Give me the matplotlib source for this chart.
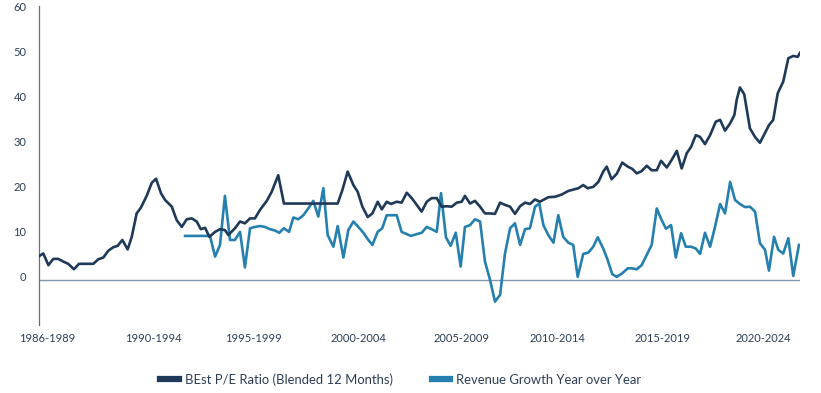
import matplotlib
matplotlib.use("Agg")
import matplotlib.pyplot as plt
import matplotlib.transforms as mtransforms
from matplotlib.lines import Line2D

# BEst P/E ratio (blended 12 months)
pe_year = [1986.00, 1986.21, 1986.46, 1986.70, 1986.94, 1987.19, 1987.43, 1987.71, 1987.96, 1988.66,
           1988.90, 1989.15, 1989.39, 1989.64, 1989.85, 1990.08, 1990.34, 1990.54, 1990.78, 1990.99,
           1991.27, 1991.52, 1991.73, 1991.97, 1992.17, 1992.50, 1992.74, 1992.99, 1993.23, 1993.48,
           1993.72, 1993.92, 1994.13, 1994.34, 1994.62, 1994.86, 1995.10, 1995.27, 1995.59, 1995.84,
           1996.08, 1996.33, 1996.57, 1996.82, 1997.15, 1997.39, 1997.71, 1997.99, 2000.62, 2000.85,
           2001.11, 2001.39, 2001.60, 2001.83, 2002.09, 2002.32, 2002.58, 2002.78, 2003.02, 2003.23,
           2003.51, 2003.75, 2004.00, 2004.21, 2004.41, 2004.73, 2004.98, 2005.22, 2005.47, 2005.71,
           2005.96, 2006.20, 2006.45, 2006.69, 2006.85, 2007.10, 2007.34, 2007.59, 2007.83, 2008.08,
           2008.32, 2008.57, 2008.81, 2009.06, 2009.30, 2009.55, 2009.79, 2010.03, 2010.28, 2010.52,
           2010.93, 2011.26, 2011.59, 2011.91, 2012.24, 2012.40, 2012.64, 2012.86, 2013.13, 2013.38,
           2013.62, 2013.79, 2014.03, 2014.28, 2014.55, 2014.82, 2015.04, 2015.26, 2015.50, 2015.75,
           2015.99, 2016.24, 2016.45, 2016.73, 2016.97, 2017.22, 2017.46, 2017.71, 2017.92, 2018.15,
           2018.36, 2018.60, 2018.85, 2019.13, 2019.34, 2019.58, 2019.83, 2020.04, 2020.15, 2020.31,
           2020.52, 2020.80, 2021.05, 2021.29, 2021.54, 2021.73, 2021.94, 2022.16, 2022.43, 2022.68,
           2022.92, 2023.14, 2023.25]
pe_val = [5.3, 5.9, 3.3, 4.7, 4.7, 4.1, 3.6, 2.4, 3.6, 3.6,
          4.6, 5.0, 6.5, 7.3, 7.6, 8.9, 6.8, 9.6, 14.8, 16.1,
          18.7, 21.6, 22.5, 19.3, 17.8, 16.3, 13.3, 11.8, 13.5, 13.7,
          13.0, 11.3, 11.6, 9.6, 10.7, 11.3, 11.1, 10.0, 11.5, 13.0,
          12.6, 13.7, 13.7, 15.6, 17.6, 19.6, 23.3, 17.0, 17.0, 20.0,
          24.1, 21.1, 19.6, 16.3, 14.0, 14.8, 17.4, 15.7, 17.4, 16.9,
          17.4, 17.2, 19.4, 18.4, 17.2, 15.2, 17.4, 18.2, 18.2, 16.3,
          16.4, 16.3, 17.2, 17.4, 18.7, 17.0, 17.6, 16.3, 14.8, 14.8,
          14.7, 17.2, 16.7, 16.3, 14.7, 16.4, 17.2, 16.9, 17.9, 17.4,
          18.4, 18.5, 19.0, 19.8, 20.2, 20.4, 21.1, 20.4, 20.7, 21.8,
          24.1, 25.2, 22.4, 23.6, 26.1, 25.2, 24.7, 23.7, 24.2, 25.4,
          24.4, 24.4, 26.5, 25.0, 26.7, 28.7, 24.8, 28.2, 29.6, 32.2,
          31.8, 30.2, 32.2, 35.2, 35.6, 33.2, 34.8, 36.7, 40.0, 42.8,
          41.3, 33.7, 31.8, 30.5, 32.7, 34.4, 35.6, 41.5, 44.1, 49.3,
          49.8, 49.6, 50.5]

# Revenue growth year over year (%)
rev_year = [1993.15, 1994.37, 1994.62, 1994.86, 1995.10, 1995.35, 1995.59, 1995.84, 1996.08, 1996.33,
            1996.57, 1996.82, 1997.06, 1997.31, 1997.55, 1997.76, 1997.99, 1998.24, 1998.45, 1998.69,
            1998.94, 1999.18, 1999.43, 1999.67, 1999.92, 2000.13, 2000.41, 2000.62, 2000.90, 2001.14,
            2001.39, 2001.63, 2001.88, 2002.12, 2002.32, 2002.58, 2002.80, 2003.02, 2003.26, 2003.51,
            2003.75, 2004.00, 2004.21, 2004.49, 2004.73, 2004.98, 2005.22, 2005.47, 2005.68, 2005.92,
            2006.15, 2006.40, 2006.64, 2006.85, 2007.10, 2007.34, 2007.59, 2007.83, 2008.08, 2008.32,
            2008.57, 2008.81, 2009.06, 2009.30, 2009.55, 2009.79, 2010.03, 2010.28, 2010.49, 2010.69,
            2010.93, 2011.18, 2011.42, 2011.66, 2011.91, 2012.15, 2012.37, 2012.64, 2012.89, 2013.13,
            2013.35, 2013.62, 2013.84, 2014.06, 2014.28, 2014.55, 2014.82, 2015.01, 2015.26, 2015.50,
            2015.75, 2015.99, 2016.24, 2016.45, 2016.69, 2016.94, 2017.17, 2017.43, 2017.66, 2017.92,
            2018.15, 2018.36, 2018.60, 2018.85, 2019.09, 2019.34, 2019.58, 2019.83, 2020.07, 2020.31,
            2020.56, 2020.80, 2021.05, 2021.29, 2021.54, 2021.73, 2021.98, 2022.19, 2022.43, 2022.68,
            2022.92, 2023.20]
rev_val = [9.8, 9.8, 5.2, 7.8, 18.7, 8.9, 8.9, 10.7, 2.8, 11.5,
           11.8, 12.0, 11.8, 11.3, 11.0, 10.5, 11.5, 10.7, 13.9, 13.5,
           14.4, 15.9, 17.6, 14.1, 20.4, 10.0, 7.4, 12.0, 5.0, 11.1,
           13.0, 11.8, 10.5, 8.9, 7.8, 10.7, 11.5, 14.4, 14.4, 14.4,
           10.7, 10.2, 9.8, 10.2, 10.5, 11.8, 11.3, 10.7, 19.3, 9.5,
           7.6, 10.5, 3.0, 11.8, 12.2, 13.5, 13.0, 4.1, 0.0, -4.8,
           -3.3, 5.9, 11.5, 12.6, 7.8, 11.3, 11.5, 16.3, 17.0, 12.2,
           10.0, 8.3, 14.4, 9.6, 8.3, 7.8, 0.7, 5.8, 6.1, 7.4,
           9.5, 7.0, 4.4, 1.3, 0.7, 1.5, 2.6, 2.6, 2.4, 3.3,
           5.6, 7.8, 15.9, 13.6, 11.4, 12.2, 5.0, 10.4, 7.4, 7.4,
           7.0, 5.8, 10.5, 7.4, 11.8, 16.9, 14.8, 21.8, 17.8, 16.9,
           16.2, 16.3, 15.2, 8.2, 6.7, 2.1, 9.6, 6.7, 5.9, 9.3,
           0.9, 7.8]

period_labels = ["1986-1989", "1990-1994", "1995-1999", "2000-2004",
                 "2005-2009", "2010-2014", "2015-2019", "2020-2024"]
period_pos = [1986.39, 1991.58, 1996.52, 2001.62, 2006.66, 2011.36, 2016.50, 2021.44]
y_ticks = [0, 10, 20, 30, 40, 50, 60]

navy = "#1f3a58"
blue = "#2580b0"
text_col = "#2d3f57"

plt.rcParams["font.family"] = ["Lato", "DejaVu Sans"]

fig = plt.figure(figsize=(8.21, 3.93), dpi=100)
ax = fig.add_axes([0.0475, 0.173, 0.9269, 0.8117])

ax.axhline(0, color="#8496ab", lw=1.0, zorder=1)
ax.plot(pe_year, pe_val, color=navy, lw=1.9, solid_joinstyle="round", zorder=3,
        label="BEst P/E Ratio (Blended 12 Months)")
ax.plot(rev_year, rev_val, color=blue, lw=1.9, solid_joinstyle="round", zorder=2,
        label="Revenue Growth Year over Year")

ax.set_xlim(1986.0, 2023.25)
ax.set_ylim(-10, 60.9)

for s in ["top", "right", "bottom"]:
    ax.spines[s].set_visible(False)
ax.spines["left"].set_color("#666f7a")
ax.spines["left"].set_linewidth(0.9)

ax.set_yticks(y_ticks)
ax.set_xticks(period_pos)
ax.set_xticklabels(period_labels)
ax.tick_params(axis="both", length=0, labelsize=8, labelcolor=text_col)
ax.tick_params(axis="y", pad=9)
ax.tick_params(axis="x", pad=6)

# y labels sit a little above their gridline in the original
offset = mtransforms.ScaledTranslation(0, 0.04, fig.dpi_scale_trans)
for lab in ax.get_yticklabels():
    lab.set_transform(lab.get_transform() + offset)

handles = [Line2D([0], [0], color=navy, lw=4.5),
           Line2D([0], [0], color=blue, lw=4.5)]
fig.legend(handles, ["BEst P/E Ratio (Blended 12 Months)", "Revenue Growth Year over Year"],
           loc="center", bbox_to_anchor=(0.488, 0.035), ncol=2, frameon=False,
           fontsize=9.4, labelcolor=text_col, handlelength=1.4, handletextpad=0.45,
           columnspacing=3.0)

fig.savefig("out.png", dpi=100)
